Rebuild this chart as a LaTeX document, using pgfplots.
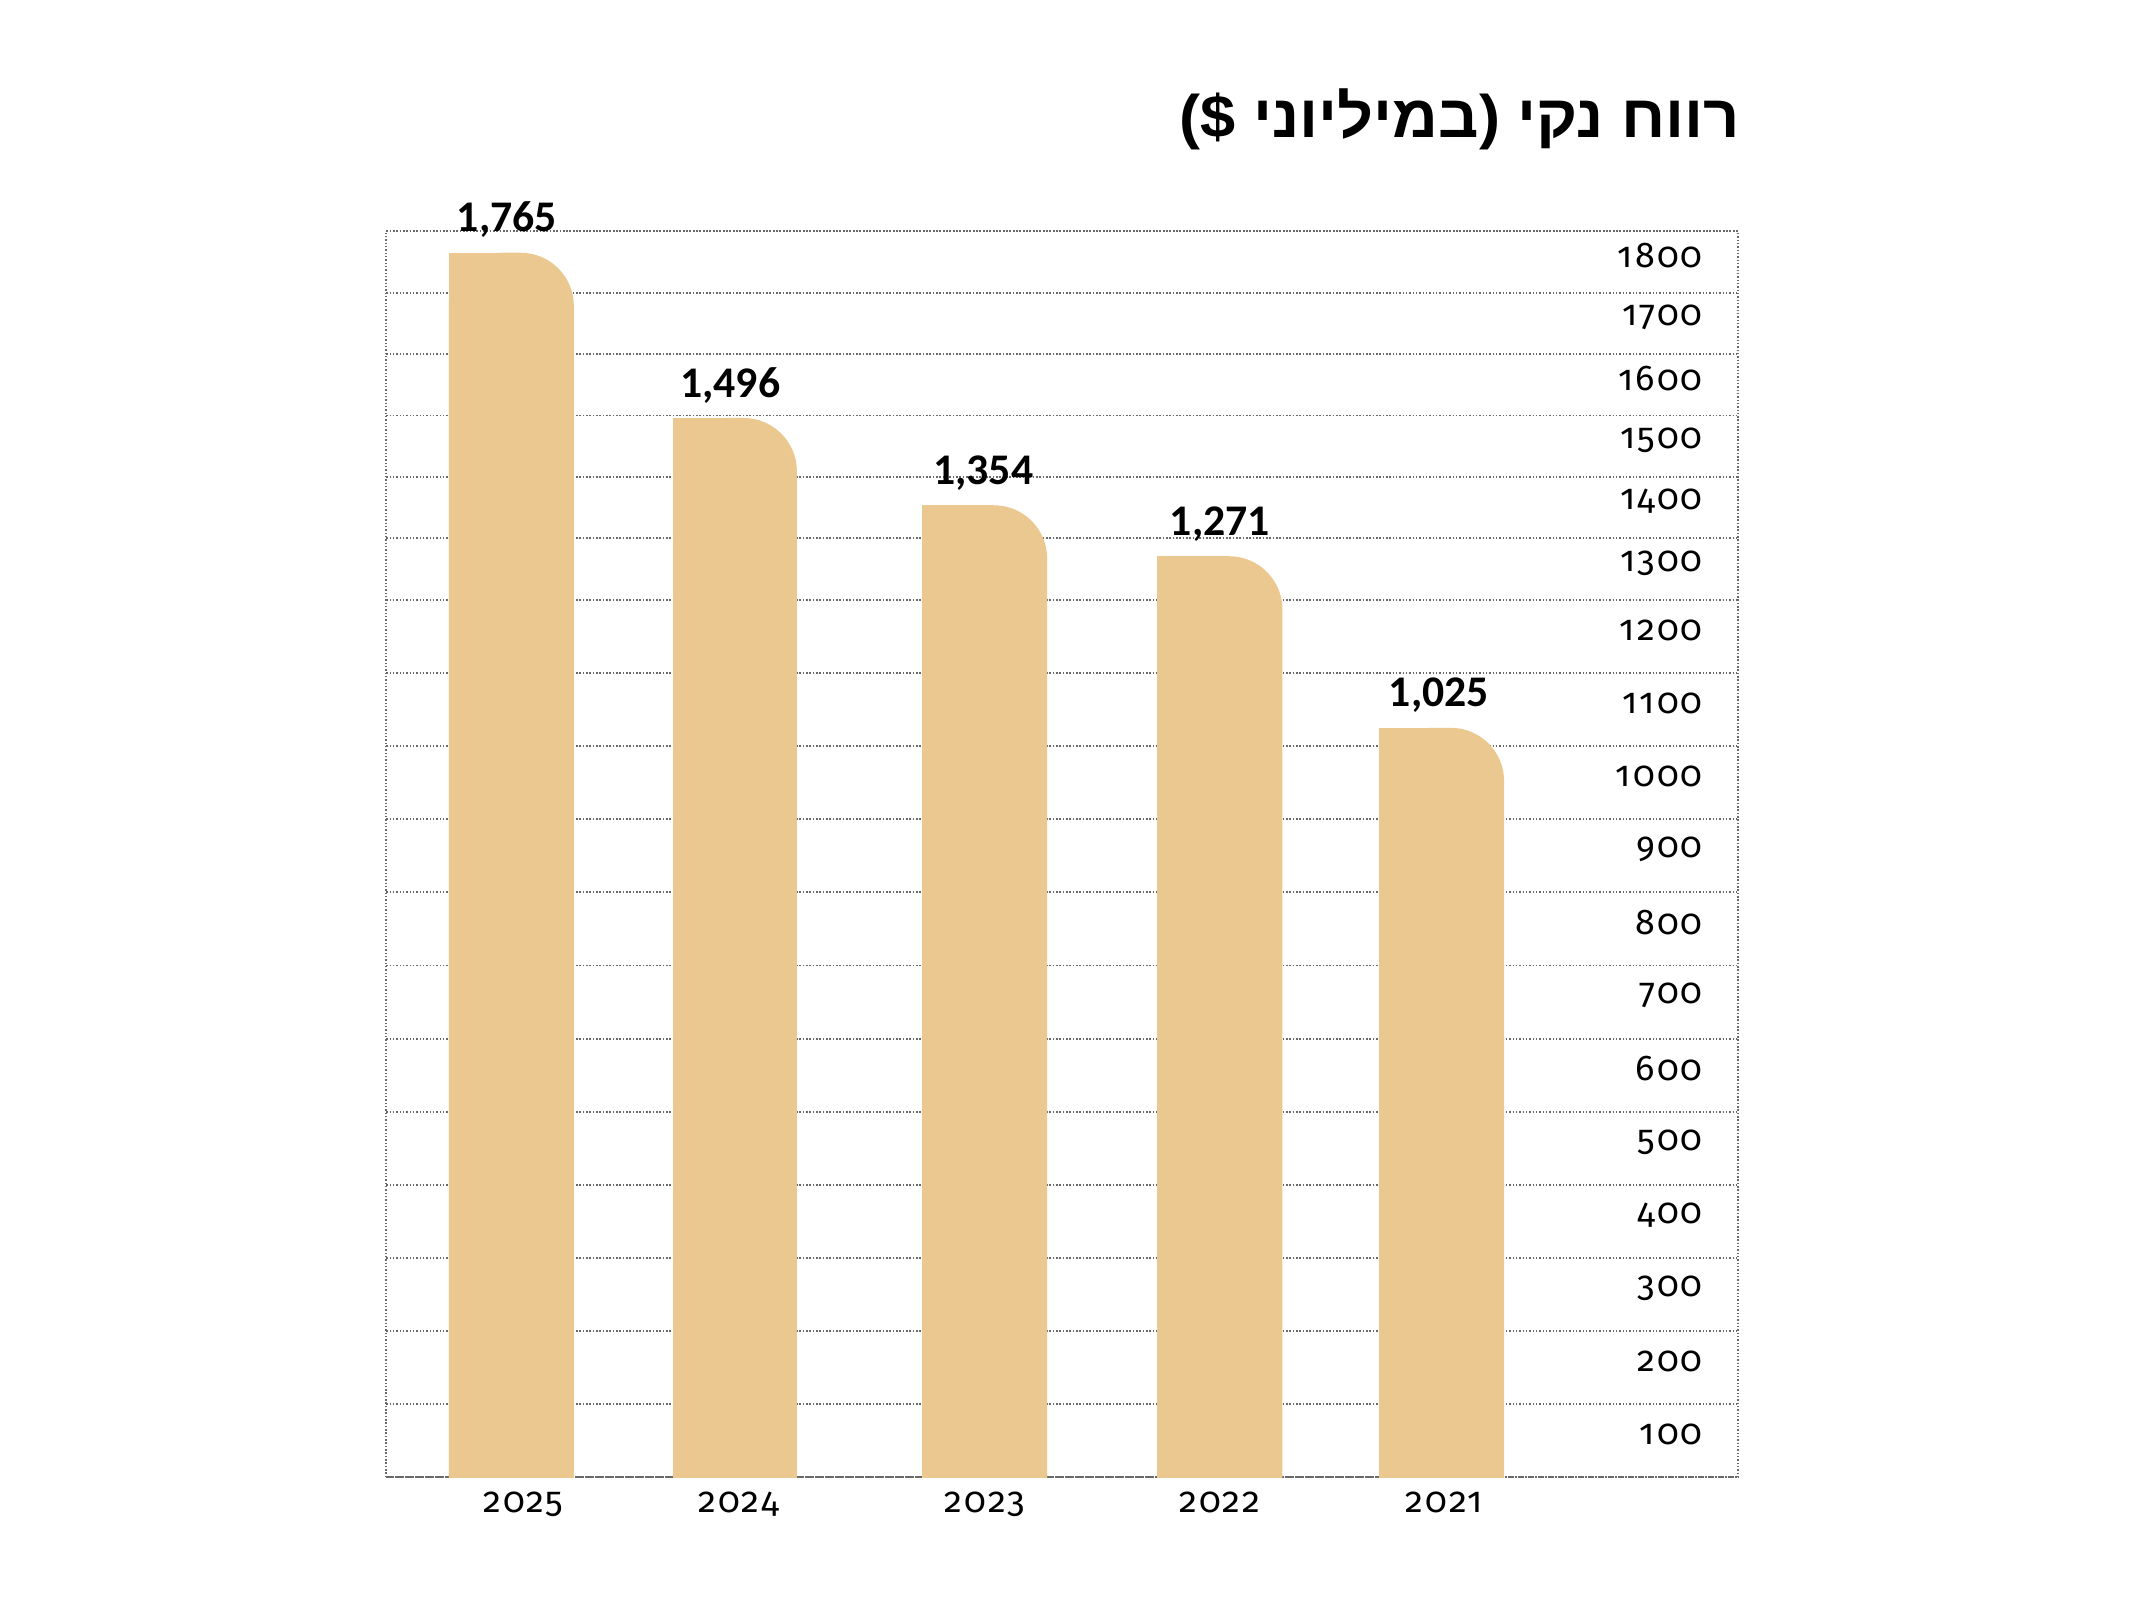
\documentclass[border=0pt]{standalone}
\usepackage{fontspec}
\usepackage{graphicx}
\usepackage{pgfplots}
\pgfplotsset{compat=1.18}
\TeXXeTstate=1
\setmainfont{Carlito}
\newfontfamily\tickfont[Numbers=OldStyle, LetterSpace=6]{Fira Sans}
\newfontfamily\hebfont[Script=Hebrew]{Liberation Sans}
\definecolor{barc}{RGB}{235,200,143}
\definecolor{gridc}{RGB}{105,105,105}

\pgfplotsset{
  ctrafo/.style={
    y coord trafo/.code={\pgfmathparse{(##1<1200) ? (##1) : (1200+((##1)-1200)*0.8403)}},
    y coord inv trafo/.code={\pgfmathparse{(##1<1200) ? (##1) : (1200+((##1)-1200)/0.8403)}},
  },
  common/.style={ctrafo, scale only axis, width=324.5pt, height=299.1pt,
    at={(92.7pt,29.4pt)}, anchor=south west,
    xmin=284, xmax=1278, ymin=0, ymax=1800}
}

\begin{document}
\begin{tikzpicture}
\useasboundingbox (0,0) rectangle (512pt,384pt);
\begin{axis}[common,
  axis line style={gridc, line width=0.45pt, dash pattern=on 0.35pt off 0.45pt},
  ytick={50,150,...,1750},
  yticklabels={100,200,300,400,500,600,700,800,900,1000,1100,1200,1300,1400,1500,1600,1700,1800},
  minor ytick={0,100,...,1800},
  yminorgrids=true, ymajorgrids=false,
  minor grid style={gridc, line width=0.45pt, dash pattern=on 0.35pt off 0.45pt},
  xtick={385,543,724,897,1062},
  xticklabels={2025,2024,2023,2022,2021},
  major tick length=0pt, minor tick length=0pt,
  tick style={draw=none},
  yticklabel pos=right,
  ticklabel style={font=\tickfont\fontsize{8.6}{10}\selectfont},
  yticklabel style={anchor=east, inner sep=0pt, xshift=-8.3pt, yshift=1.5pt},
  xticklabel style={anchor=north, inner sep=0pt, yshift=-3.4pt},
]
% 2025
\addplot[fill=barc, draw=none, rounded corners=12.8pt] coordinates {(330,-300) (330,1765) (422,1765) (422,-300)};
\addplot[fill=barc, draw=none] coordinates {(330,-300) (330,1765) (376,1765) (376,-300)};
% 2024
\addplot[fill=barc, draw=none, rounded corners=12.8pt] coordinates {(495,-300) (495,1496) (586,1496) (586,-300)};
\addplot[fill=barc, draw=none] coordinates {(495,-300) (495,1496) (540,1496) (540,-300)};
% 2023
\addplot[fill=barc, draw=none, rounded corners=12.8pt] coordinates {(678,-300) (678,1354) (770,1354) (770,-300)};
\addplot[fill=barc, draw=none] coordinates {(678,-300) (678,1354) (724,1354) (724,-300)};
% 2022
\addplot[fill=barc, draw=none, rounded corners=12.8pt] coordinates {(851,-300) (851,1271) (943,1271) (943,-300)};
\addplot[fill=barc, draw=none] coordinates {(851,-300) (851,1271) (897,1271) (897,-300)};
% 2021
\addplot[fill=barc, draw=none, rounded corners=12.8pt] coordinates {(1014,-300) (1014,1025) (1106,1025) (1106,-300)};
\addplot[fill=barc, draw=none] coordinates {(1014,-300) (1014,1025) (1060,1025) (1060,-300)};
\end{axis}
\begin{axis}[common, hide axis, clip=false]
\addplot[draw=none, nodes near coords, point meta=explicit symbolic,
  nodes near coords style={font=\bfseries\fontsize{10.5}{12}\selectfont, anchor=base, yshift=5pt}]
  coordinates {(372.7,1765)[1,765] (537,1496)[1,496] (723,1354)[1,354] (897,1271)[1,271] (1058,1025)[1,025]};
\end{axis}
\node[anchor=base east, inner sep=0pt] at (417.9pt,350.9pt)
  {\resizebox{134.5pt}{\height}{\hebfont\bfseries\fontsize{14.4}{16}\selectfont\beginR רווח נקי (במיליוני \$)\endR}};
\end{tikzpicture}
\end{document}
